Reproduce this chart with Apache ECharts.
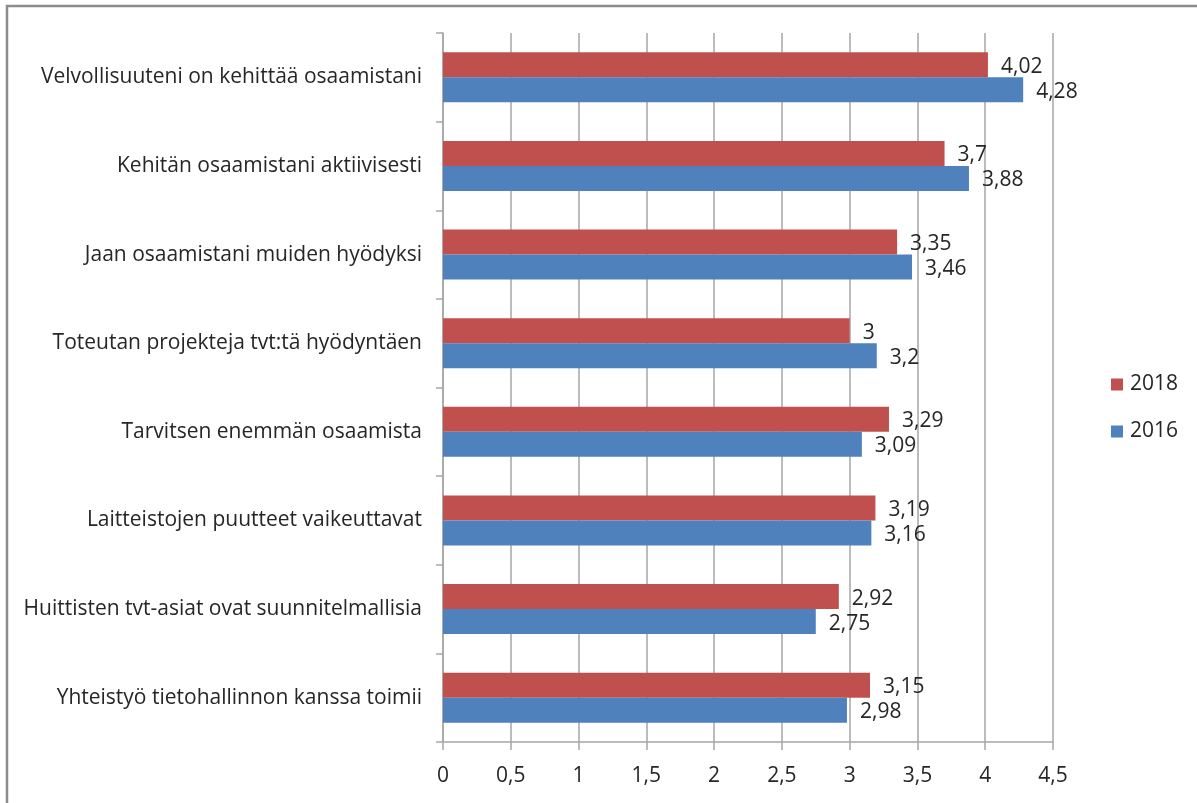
<!DOCTYPE html>
<html>
<head>
<meta charset="utf-8">
<script src="https://cdn.jsdelivr.net/npm/echarts@6/dist/echarts.min.js"></script>
<style>
  html, body { margin: 0; padding: 0; background: #fff; }
  #chart { width: 1197px; height: 803px; }
</style>
</head>
<body>
<div id="chart"></div>
<script>
// Statements, top to bottom
const categories = [
  'Velvollisuuteni on kehittää osaamistani',
  'Kehitän osaamistani aktiivisesti',
  'Jaan osaamistani muiden hyödyksi',
  'Toteutan projekteja tvt:tä hyödyntäen',
  'Tarvitsen enemmän osaamista',
  'Laitteistojen puutteet vaikeuttavat',
  'Huittisten tvt-asiat ovat suunnitelmallisia',
  'Yhteistyö tietohallinnon kanssa toimii'
];
const values2018 = [4.02, 3.7, 3.35, 3, 3.29, 3.19, 2.92, 3.15];
const values2016 = [4.28, 3.88, 3.46, 3.2, 3.09, 3.16, 2.75, 2.98];
const seriesNames = ['2018', '2016'];

const FONT = '"Open Sans", "Noto Sans", sans-serif';
const TEXT = '#262626';
const SIZE = 21;
const comma = v => String(v).replace('.', ',');

const chart = echarts.init(document.getElementById('chart'), null, { renderer: 'canvas' });

function barSeries(name, data, color) {
  return {
    name: name,
    type: 'bar',
    data: data,
    barWidth: 25,
    barGap: '0%',
    itemStyle: { color: color },
    label: {
      show: true,
      position: 'right',
      distance: 13,
      offset: [0, 2],
      color: TEXT,
      fontFamily: FONT,
      fontSize: SIZE,
      formatter: p => comma(p.value)
    },
    emphasis: { disabled: true }
  };
}

chart.setOption({
  animation: false,
  backgroundColor: '#fff',
  textStyle: { fontFamily: FONT },
  graphic: [{
    type: 'rect',
    shape: { x: 7, y: 6, width: 1400, height: 1000 },
    style: { fill: 'none', stroke: '#8c8c8c', lineWidth: 2.5 },
    silent: true
  }],
  legend: {
    orient: 'vertical',
    left: 1106,
    top: 369,
    itemWidth: 12,
    itemHeight: 12,
    itemGap: 26,
    icon: 'rect',
    textStyle: { fontFamily: FONT, fontSize: SIZE, color: TEXT, padding: [0, 0, 0, 2] },
    data: seriesNames
  },
  grid: { left: 443, right: 144, top: 33, bottom: 61, containLabel: false },
  xAxis: {
    type: 'value',
    min: 0,
    max: 4.5,
    interval: 0.5,
    axisLine: { show: true, lineStyle: { color: '#a6a6a6', width: 1.5 } },
    axisTick: { show: true, length: 8, lineStyle: { color: '#a6a6a6', width: 1.5 } },
    splitLine: { show: true, lineStyle: { color: '#a6a6a6', width: 1.5 } },
    axisLabel: {
      margin: 24,
      color: TEXT,
      fontFamily: FONT,
      fontSize: SIZE,
      formatter: v => comma(v)
    }
  },
  yAxis: {
    type: 'category',
    inverse: true,
    data: categories,
    axisLine: { show: true, lineStyle: { color: '#a6a6a6', width: 1.5 } },
    axisTick: { show: true, length: 7, inside: false, lineStyle: { color: '#a6a6a6', width: 1.5 } },
    splitLine: { show: false },
    axisLabel: {
      margin: 21,
      color: TEXT,
      fontFamily: FONT,
      fontSize: SIZE
    }
  },
  series: [
    barSeries(seriesNames[0], values2018, '#c0504d'),
    barSeries(seriesNames[1], values2016, '#4f81bd')
  ]
});
</script>
</body>
</html>
